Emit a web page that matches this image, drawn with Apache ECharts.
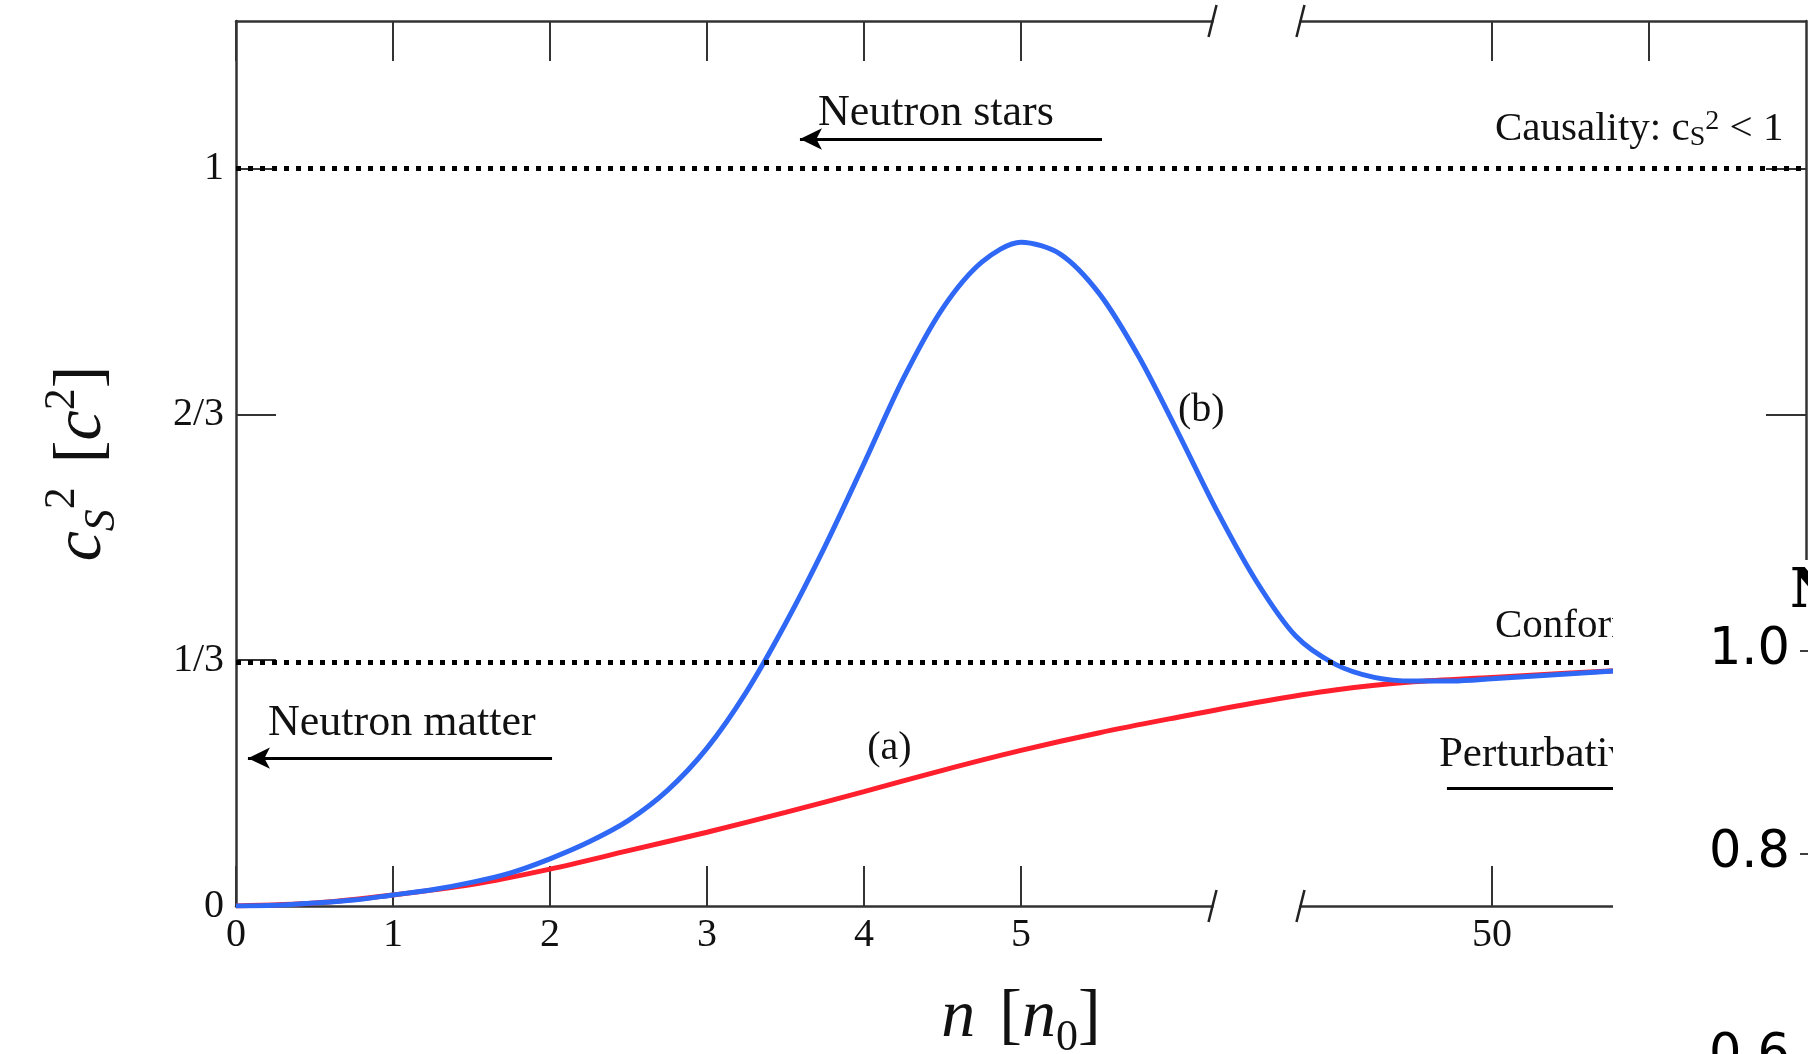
<!DOCTYPE html>
<html lang="en">
<head>
	<meta charset="UTF-8">
	<title>Speed of sound</title>
	<style>
		*{
			margin: 0;
			padding: 0;
		}
		#main{
			width: 1808px;
			height: 1054px;
			background: #fff;
		}
	</style>
	<script src="https://cdn.jsdelivr.net/npm/echarts@6/dist/echarts.min.js"></script>
</head>
<body>
	<div id="main"></div>
	<script>
		var SERIF = "'Liberation Serif', 'DejaVu Serif', serif";

		// x is in plot units: 0..6.22 is n/n0, after the break the same step is used (8 -> 50)
		var bottomTicks = [0, 1, 2, 3, 4, 5, 8, 9];
		var bottomLabels = [0, 1, 2, 3, 4, 5, 8];
		var tickNames = {8: '50'};
		var yTicks = [0, 1/3, 2/3, 1];
		var yNames = ['0', '1/3', '2/3', '1'];
		var breakAt = [6.22, 6.78];
		var limits = [1, 1/3];

		// (a) red
		var xA = [0, 0.5, 1, 1.5, 2, 2.5, 3, 3.5, 4, 4.5, 5, 5.5, 6, 6.5, 7, 7.5, 8, 8.5, 9, 9.5, 10];
		var yA = [0, 0.004, 0.015, 0.029, 0.05, 0.075, 0.1, 0.127, 0.155, 0.184, 0.211, 0.235, 0.256, 0.276, 0.293, 0.304, 0.31, 0.316, 0.321, 0.325, 0.328];
		// (b) blue
		var xB = [0, 0.25, 0.5, 0.75, 1, 1.25, 1.5, 1.75, 2, 2.25, 2.5, 2.75, 3, 3.25, 3.5, 3.75, 4, 4.25, 4.5, 4.75, 5, 5.25, 5.5, 5.75, 6, 6.25, 6.5, 6.75, 7, 7.25, 7.5, 7.75, 8, 8.5, 9, 9.5, 10];
		var yB = [0, 0.001, 0.004, 0.008, 0.015, 0.022, 0.032, 0.045, 0.064, 0.087, 0.116, 0.157, 0.214, 0.29, 0.383, 0.487, 0.6, 0.715, 0.81, 0.873, 0.9, 0.884, 0.83, 0.745, 0.642, 0.535, 0.44, 0.366, 0.328, 0.31, 0.305, 0.305, 0.308, 0.315, 0.321, 0.325, 0.328];

		// the panel that covers the lower right corner
		var insetTicks = [0.6, 0.8, 1.0];

		function pairs(xs, ys) {
			return xs.map((x, i) => [x, ys[i]]);
		}

		function mathStyle(size) {
			return {
				rm: {fontFamily: SERIF, fontSize: size, lineHeight: 84, color: '#111'},
				it: {fontFamily: SERIF, fontStyle: 'italic', fontSize: size, lineHeight: 84, color: '#111'},
				sub: {fontFamily: SERIF, fontStyle: 'italic', fontSize: 44, lineHeight: 44, verticalAlign: 'bottom', color: '#111'},
				sub0: {fontFamily: SERIF, fontSize: 44, lineHeight: 44, verticalAlign: 'bottom', color: '#111'},
				sup: {fontFamily: SERIF, fontSize: 44, lineHeight: 44, verticalAlign: 'top', color: '#111'},
				gap: {width: 24}
			};
		}

		var axisLine = {show: true, onZero: false, lineStyle: {color: '#333', width: 2.5}};
		var tickStyle = {color: '#333', width: 2};

		var chart = echarts.init(document.getElementById('main'));
		var option = {
			animation: false,
			backgroundColor: '#fff',
			title: {
				text: 'N',
				left: 1790,
				top: 566,
				padding: 0,
				zlevel: 1,
				z: 10,
				textStyle: {fontFamily: "'DejaVu Serif'", fontWeight: 'bold', fontSize: 54, color: '#000'}
			},
			grid: [
				{left: 236, right: 2, top: 21, bottom: 148, outerBoundsMode: 'none', containLabel: false},
				{left: 1812, top: 651, width: 200, height: 406, outerBoundsMode: 'none', containLabel: false}
			],
			xAxis: [
				{
					type: 'value', min: 0, max: 10, position: 'bottom',
					axisLine: axisLine,
					axisTick: {show: true, inside: true, length: 40, lineStyle: tickStyle, customValues: bottomTicks},
					axisLabel: {
						show: true, margin: 9, customValues: bottomLabels,
						fontFamily: SERIF, fontSize: 40, color: '#111',
						formatter: v => tickNames[v] || String(v)
					},
					splitLine: {show: false},
					name: '{it|n}{gap| }{rm|[}{it|n}{sub0|0}{rm|]}',
					nameLocation: 'middle',
					nameGap: 70,
					nameTextStyle: {rich: mathStyle(68)}
				},
				{
					type: 'value', min: 0, max: 10, position: 'top',
					axisLine: axisLine,
					axisTick: {show: true, inside: true, length: 40, lineStyle: tickStyle, customValues: bottomTicks},
					axisLabel: {show: false},
					splitLine: {show: false}
				},
				{gridIndex: 1, type: 'value', min: 0, max: 1, show: false}
			],
			yAxis: [
				{
					type: 'value', min: 0, max: 1.2, position: 'left',
					axisLine: axisLine,
					axisTick: {show: true, inside: true, length: 40, lineStyle: tickStyle, customValues: yTicks},
					axisLabel: {
						show: true, margin: 12, customValues: yTicks,
						fontFamily: SERIF, fontSize: 40, color: '#111',
						formatter: function (v) {
							for (var i = 0; i < yTicks.length; i++) {
								if (Math.abs(yTicks[i] - v) < 1e-6) return yNames[i];
							}
							return '';
						}
					},
					splitLine: {show: false},
					name: '{it|c}{sub|S}{sup|2}{gap| }{rm|[}{it|c}{sup|2}{rm|]}',
					nameLocation: 'middle',
					nameRotate: 90,
					nameGap: 112,
					nameTextStyle: {rich: mathStyle(68)}
				},
				{
					type: 'value', min: 0, max: 1.2, position: 'right',
					axisLine: axisLine,
					axisTick: {show: true, inside: true, length: 40, lineStyle: tickStyle, customValues: yTicks},
					axisLabel: {show: false},
					splitLine: {show: false}
				},
				{
					gridIndex: 1, type: 'value', min: 0.6, max: 1, interval: 0.2, position: 'left',
					zlevel: 1, z: 10,
					axisLine: {show: true, onZero: false, lineStyle: {color: '#000', width: 1.5}},
					axisTick: {show: true, length: 12, lineStyle: {color: '#000', width: 1.5}},
					axisLabel: {
						margin: 22, fontFamily: "'DejaVu Sans'", fontSize: 51, color: '#000',
						showMinLabel: true, showMaxLabel: true,
						formatter: function (v) {
							var hit = insetTicks.filter(t => Math.abs(t - v) < 1e-6);
							return hit.length ? hit[0].toFixed(1) : '';
						}
					},
					splitLine: {show: false}
				}
			],
			series: [
				{
					name: '(a)', type: 'line', smooth: 0.3, showSymbol: false,
					lineStyle: {color: '#ff1f2d', width: 5},
					data: pairs(xA, yA)
				},
				{
					name: '(b)', type: 'line', smooth: 0.3, showSymbol: false,
					lineStyle: {color: '#3068f6', width: 5},
					data: pairs(xB, yB)
				},
				{
					name: 'limits', type: 'line', data: [], silent: true,
					markLine: {
						silent: true, symbol: 'none', label: {show: false},
						lineStyle: {color: '#000', width: 5, type: [5, 7]},
						data: limits.map(v => ({yAxis: v}))
					}
				},
				{
					name: 'arrows', type: 'line', data: [], silent: true,
					markLine: {
						silent: true, symbol: ['none', 'arrow'], symbolSize: [16, 22], label: {show: false},
						lineStyle: {color: '#000', width: 3, type: 'solid'},
						data: [
							[{coord: [5.516, 1.04]}, {coord: [3.592, 1.04]}],
							[{coord: [2.013, 0.2004]}, {coord: [0.076, 0.2004]}],
							[{coord: [7.713, 0.16]}, {coord: [9.9, 0.16]}]
						]
					}
				}
			]
		};
		chart.setOption(option);

		// notes, placed in plot units
		var notes = [
			{text: 'Neutron stars', at: [3.707, 1.074], size: 44},
			{text: 'Neutron matter', at: [0.204, 0.2478], size: 44},
			{text: '(a)', at: [4.02, 0.213], size: 40},
			{text: '(b)', at: [6.0, 0.6715], size: 40},
			{text: '{r|Causality: c}{s|S}{p|2}{r| < 1}', at: [8.019, 1.0533], size: 41},
			{text: '{r|Conformal: c}{s|S}{p|2}{r| = 1/3}', at: [8.019, 0.3793], size: 41},
			{text: 'Perturbative QCD', at: [7.662, 0.2057], size: 43}
		];

		var graphics = [];
		notes.forEach(function (n, i) {
			var p = chart.convertToPixel({gridIndex: 0}, n.at);
			graphics.push({
				type: 'text', id: 'note' + i, z: 60, silent: true,
				style: {
					text: n.text, x: p[0], y: p[1], align: 'left', verticalAlign: 'middle',
					fontFamily: SERIF, fontSize: n.size, fill: '#111',
					rich: {
						r: {fontFamily: SERIF, fontSize: n.size, lineHeight: 44, fill: '#111'},
						s: {fontFamily: SERIF, fontSize: 28, lineHeight: 44, verticalAlign: 'bottom', fill: '#111'},
						p: {fontFamily: SERIF, fontSize: 28, lineHeight: 44, verticalAlign: 'top', fill: '#111'}
					}
				}
			});
		});

		// broken axis marks on the bottom and top frame lines
		[0, 1.2].forEach(function (yv, k) {
			var p1 = chart.convertToPixel({gridIndex: 0}, [breakAt[0], yv]);
			var p2 = chart.convertToPixel({gridIndex: 0}, [breakAt[1], yv]);
			graphics.push({
				type: 'rect', id: 'gap' + k, z: 50, silent: true,
				shape: {x: p1[0] + 1, y: p1[1] - 5, width: p2[0] - p1[0] - 2, height: 10},
				style: {fill: '#fff'}
			});
			[p1, p2].forEach(function (p, j) {
				graphics.push({
					type: 'line', id: 'cut' + k + j, z: 51, silent: true,
					shape: {x1: p[0] + 4, y1: p[1] - 16, x2: p[0] - 4, y2: p[1] + 16},
					style: {stroke: '#222', lineWidth: 2.5}
				});
			});
		});

		// white panel with the next figure's axis
		graphics.push({
			type: 'rect', id: 'cover', zlevel: 1, z: 0, silent: true,
			shape: {x: 1613, y: 560, width: 195, height: 494},
			style: {fill: '#fff'}
		});

		chart.setOption({graphic: graphics});
	</script>
</body>
</html>
